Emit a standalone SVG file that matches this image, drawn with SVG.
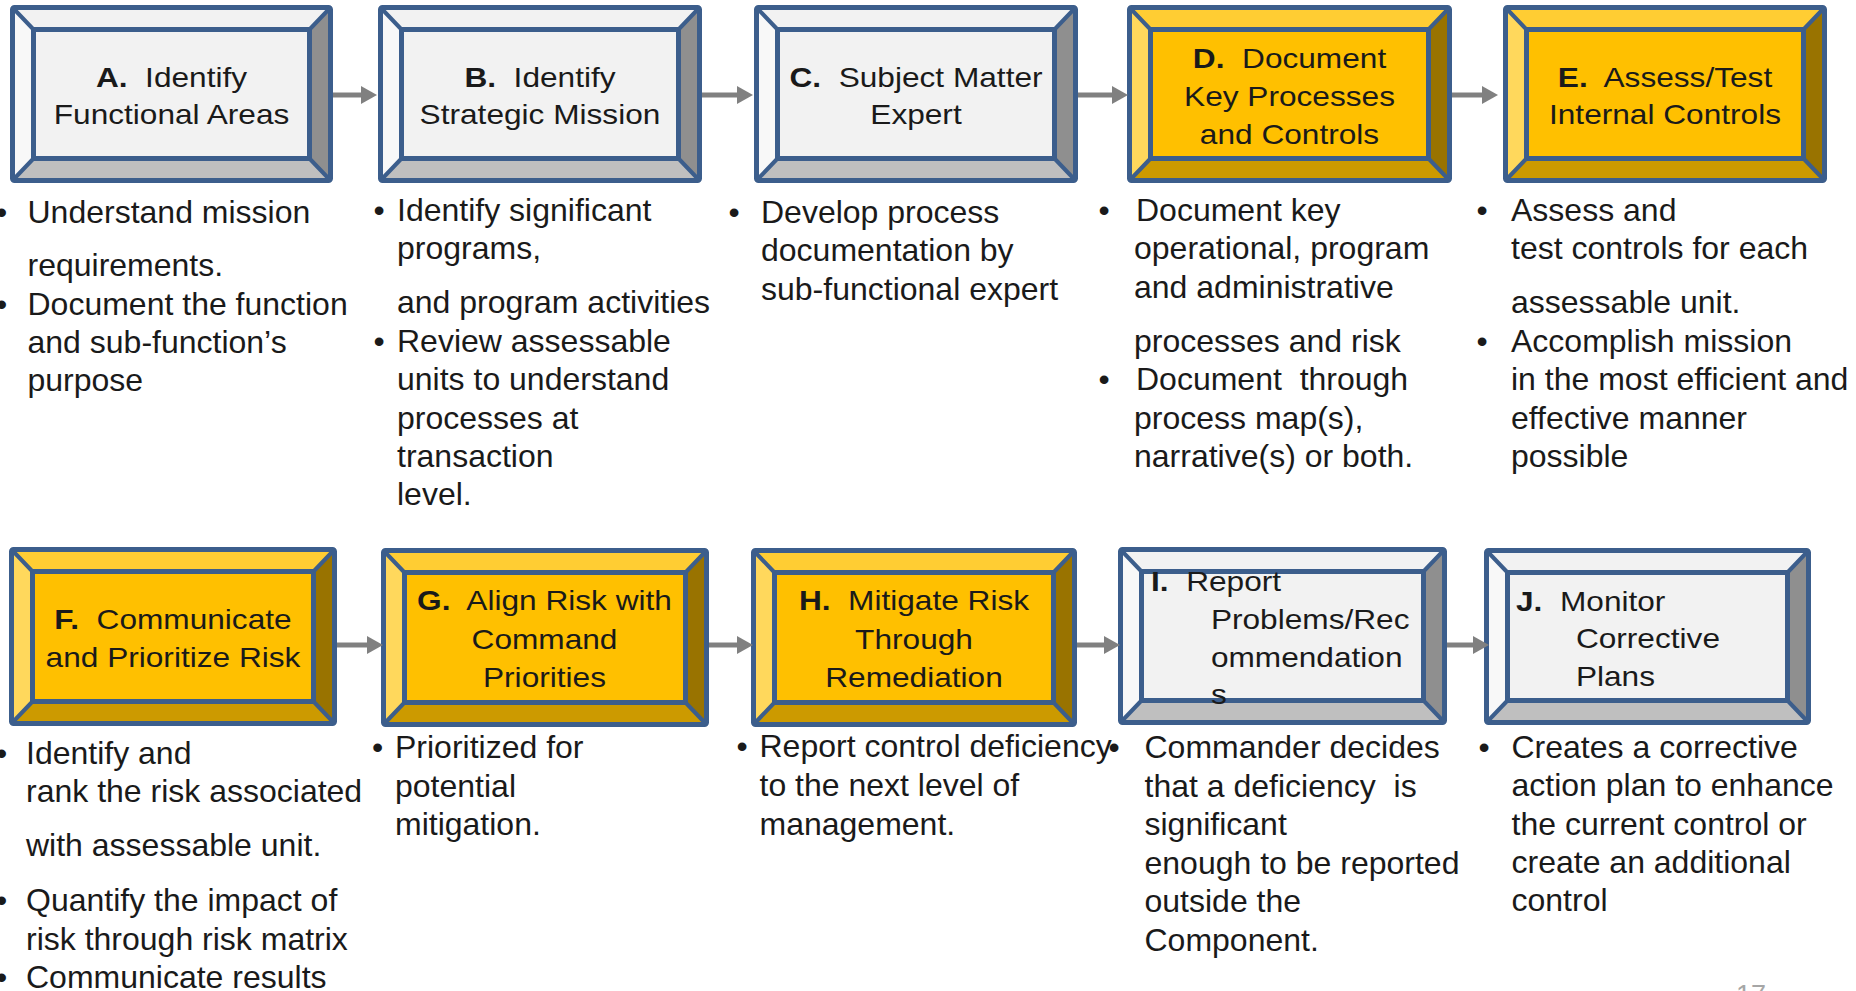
<svg xmlns="http://www.w3.org/2000/svg" width="1856" height="991" viewBox="0 0 1856 991">
<style>
.o{fill:none;stroke:#3C5E8C;stroke-width:5}
.s{stroke:#3C5E8C;stroke-width:5}
.d{stroke:#3C5E8C;stroke-width:4;fill:none}
.gt{fill:#F2F2F2}.gl{fill:#F8F8F8}.gr{fill:#8F8F8F}.gb{fill:#BFBFBF}.gf{fill:#F2F2F2}
.yt{fill:#FFCD33}.yl{fill:#FFD85C}.yr{fill:#997300}.yb{fill:#CC9A00}.yf{fill:#FFC000}
.t{font-family:"Liberation Sans",Arial,sans-serif;font-size:28px;fill:#1A1A1A;text-anchor:middle}
.tl{font-family:"Liberation Sans",Arial,sans-serif;font-size:28px;fill:#1A1A1A}
.b{font-weight:bold}
.x{font-family:"Liberation Sans",Arial,sans-serif;font-size:32px;fill:#1A1A1A}
.c{stroke:#808080;stroke-width:5;fill:none;marker-end:url(#ah)}
</style>
<defs>
<marker id="ah" markerUnits="userSpaceOnUse" markerWidth="16" markerHeight="18" refX="0" refY="9" orient="auto">
<path d="M0,0L16,9L0,18Z" fill="#808080"/>
</marker>
</defs>
<rect width="1856" height="991" fill="#FFFFFF"/>

<g id="nodeA">
<polygon class="gt" points="12.5,7.5 330.5,7.5 309.5,29.5 33.5,29.5"/>
<polygon class="gl" points="12.5,7.5 33.5,29.5 33.5,158.5 12.5,180.5"/>
<polygon class="gr" points="330.5,7.5 330.5,180.5 309.5,158.5 309.5,29.5"/>
<polygon class="gb" points="12.5,180.5 33.5,158.5 309.5,158.5 330.5,180.5"/>
<rect class="gf s" x="33.5" y="29.5" width="276" height="129"/>
<path class="d" d="M12.5,7.5L33.5,29.5M330.5,7.5L309.5,29.5M12.5,180.5L33.5,158.5M330.5,180.5L309.5,158.5"/>
<rect class="o" x="12.5" y="7.5" width="318" height="173" rx="2"/>
<g transform="translate(171.5,0) scale(1.13,1)">
<text class="t" y="87" xml:space="preserve"><tspan class="b">A.</tspan>  Identify</text>
<text class="t" y="124">Functional Areas</text>
</g>
</g>

<g id="nodeB">
<polygon class="gt" points="380.5,7.5 699.5,7.5 678.5,29.5 401.5,29.5"/>
<polygon class="gl" points="380.5,7.5 401.5,29.5 401.5,158.5 380.5,180.5"/>
<polygon class="gr" points="699.5,7.5 699.5,180.5 678.5,158.5 678.5,29.5"/>
<polygon class="gb" points="380.5,180.5 401.5,158.5 678.5,158.5 699.5,180.5"/>
<rect class="gf s" x="401.5" y="29.5" width="277" height="129"/>
<path class="d" d="M380.5,7.5L401.5,29.5M699.5,7.5L678.5,29.5M380.5,180.5L401.5,158.5M699.5,180.5L678.5,158.5"/>
<rect class="o" x="380.5" y="7.5" width="319" height="173" rx="2"/>
<g transform="translate(540,0) scale(1.13,1)">
<text class="t" y="87" xml:space="preserve"><tspan class="b">B.</tspan>  Identify</text>
<text class="t" y="124">Strategic Mission</text>
</g>
</g>

<g id="nodeC">
<polygon class="gt" points="756.5,7.5 1075.5,7.5 1054.5,29.5 777.5,29.5"/>
<polygon class="gl" points="756.5,7.5 777.5,29.5 777.5,158.5 756.5,180.5"/>
<polygon class="gr" points="1075.5,7.5 1075.5,180.5 1054.5,158.5 1054.5,29.5"/>
<polygon class="gb" points="756.5,180.5 777.5,158.5 1054.5,158.5 1075.5,180.5"/>
<rect class="gf s" x="777.5" y="29.5" width="277" height="129"/>
<path class="d" d="M756.5,7.5L777.5,29.5M1075.5,7.5L1054.5,29.5M756.5,180.5L777.5,158.5M1075.5,180.5L1054.5,158.5"/>
<rect class="o" x="756.5" y="7.5" width="319" height="173" rx="2"/>
<g transform="translate(916,0) scale(1.13,1)">
<text class="t" y="87" xml:space="preserve"><tspan class="b">C.</tspan>  Subject Matter</text>
<text class="t" y="124">Expert</text>
</g>
</g>

<g id="nodeD">
<polygon class="yt" points="1129.5,7.5 1449.5,7.5 1428.5,29.5 1150.5,29.5"/>
<polygon class="yl" points="1129.5,7.5 1150.5,29.5 1150.5,158.5 1129.5,180.5"/>
<polygon class="yr" points="1449.5,7.5 1449.5,180.5 1428.5,158.5 1428.5,29.5"/>
<polygon class="yb" points="1129.5,180.5 1150.5,158.5 1428.5,158.5 1449.5,180.5"/>
<rect class="yf s" x="1150.5" y="29.5" width="278" height="129"/>
<path class="d" d="M1129.5,7.5L1150.5,29.5M1449.5,7.5L1428.5,29.5M1129.5,180.5L1150.5,158.5M1449.5,180.5L1428.5,158.5"/>
<rect class="o" x="1129.5" y="7.5" width="320" height="173" rx="2"/>
<g transform="translate(1289.5,0) scale(1.13,1)">
<text class="t" y="68" xml:space="preserve"><tspan class="b">D.</tspan>  Document</text>
<text class="t" y="106">Key Processes</text>
<text class="t" y="144">and Controls</text>
</g>
</g>

<g id="nodeE">
<polygon class="yt" points="1505.5,7.5 1824.5,7.5 1803.5,29.5 1526.5,29.5"/>
<polygon class="yl" points="1505.5,7.5 1526.5,29.5 1526.5,158.5 1505.5,180.5"/>
<polygon class="yr" points="1824.5,7.5 1824.5,180.5 1803.5,158.5 1803.5,29.5"/>
<polygon class="yb" points="1505.5,180.5 1526.5,158.5 1803.5,158.5 1824.5,180.5"/>
<rect class="yf s" x="1526.5" y="29.5" width="277" height="129"/>
<path class="d" d="M1505.5,7.5L1526.5,29.5M1824.5,7.5L1803.5,29.5M1505.5,180.5L1526.5,158.5M1824.5,180.5L1803.5,158.5"/>
<rect class="o" x="1505.5" y="7.5" width="319" height="173" rx="2"/>
<g transform="translate(1665,0) scale(1.13,1)">
<text class="t" y="87" xml:space="preserve"><tspan class="b">E.</tspan>  Assess/Test</text>
<text class="t" y="124">Internal Controls</text>
</g>
</g>

<g id="nodeF">
<polygon class="yt" points="11.5,549.5 334.5,549.5 313.5,571.5 32.5,571.5"/>
<polygon class="yl" points="11.5,549.5 32.5,571.5 32.5,701.5 11.5,723.5"/>
<polygon class="yr" points="334.5,549.5 334.5,723.5 313.5,701.5 313.5,571.5"/>
<polygon class="yb" points="11.5,723.5 32.5,701.5 313.5,701.5 334.5,723.5"/>
<rect class="yf s" x="32.5" y="571.5" width="281" height="130"/>
<path class="d" d="M11.5,549.5L32.5,571.5M334.5,549.5L313.5,571.5M11.5,723.5L32.5,701.5M334.5,723.5L313.5,701.5"/>
<rect class="o" x="11.5" y="549.5" width="323" height="174" rx="2"/>
<g transform="translate(173,0) scale(1.13,1)">
<text class="t" y="629" xml:space="preserve"><tspan class="b">F.</tspan>  Communicate</text>
<text class="t" y="667">and Prioritize Risk</text>
</g>
</g>

<g id="nodeG">
<polygon class="yt" points="383.5,550.5 706.5,550.5 685.5,572.5 404.5,572.5"/>
<polygon class="yl" points="383.5,550.5 404.5,572.5 404.5,702.5 383.5,724.5"/>
<polygon class="yr" points="706.5,550.5 706.5,724.5 685.5,702.5 685.5,572.5"/>
<polygon class="yb" points="383.5,724.5 404.5,702.5 685.5,702.5 706.5,724.5"/>
<rect class="yf s" x="404.5" y="572.5" width="281" height="130"/>
<path class="d" d="M383.5,550.5L404.5,572.5M706.5,550.5L685.5,572.5M383.5,724.5L404.5,702.5M706.5,724.5L685.5,702.5"/>
<rect class="o" x="383.5" y="550.5" width="323" height="174" rx="2"/>
<g transform="translate(544.5,0) scale(1.13,1)">
<text class="t" y="610" xml:space="preserve"><tspan class="b">G.</tspan>  Align Risk with</text>
<text class="t" y="649">Command</text>
<text class="t" y="687">Priorities</text>
</g>
</g>

<g id="nodeH">
<polygon class="yt" points="753.5,550.5 1074.5,550.5 1053.5,572.5 774.5,572.5"/>
<polygon class="yl" points="753.5,550.5 774.5,572.5 774.5,702.5 753.5,724.5"/>
<polygon class="yr" points="1074.5,550.5 1074.5,724.5 1053.5,702.5 1053.5,572.5"/>
<polygon class="yb" points="753.5,724.5 774.5,702.5 1053.5,702.5 1074.5,724.5"/>
<rect class="yf s" x="774.5" y="572.5" width="279" height="130"/>
<path class="d" d="M753.5,550.5L774.5,572.5M1074.5,550.5L1053.5,572.5M753.5,724.5L774.5,702.5M1074.5,724.5L1053.5,702.5"/>
<rect class="o" x="753.5" y="550.5" width="321" height="174" rx="2"/>
<g transform="translate(914,0) scale(1.13,1)">
<text class="t" y="610" xml:space="preserve"><tspan class="b">H.</tspan>  Mitigate Risk</text>
<text class="t" y="649">Through</text>
<text class="t" y="687">Remediation</text>
</g>
</g>

<g id="nodeI">
<polygon class="gt" points="1120.5,549.5 1444.5,549.5 1423.5,571.5 1141.5,571.5"/>
<polygon class="gl" points="1120.5,549.5 1141.5,571.5 1141.5,700.5 1120.5,722.5"/>
<polygon class="gr" points="1444.5,549.5 1444.5,722.5 1423.5,700.5 1423.5,571.5"/>
<polygon class="gb" points="1120.5,722.5 1141.5,700.5 1423.5,700.5 1444.5,722.5"/>
<rect class="gf s" x="1141.5" y="571.5" width="282" height="129"/>
<path class="d" d="M1120.5,549.5L1141.5,571.5M1444.5,549.5L1423.5,571.5M1120.5,722.5L1141.5,700.5M1444.5,722.5L1423.5,700.5"/>
<rect class="o" x="1120.5" y="549.5" width="324" height="173" rx="2"/>
<g transform="translate(1151,0) scale(1.13,1)">
<text class="tl" y="591" xml:space="preserve"><tspan class="b">I.</tspan>  Report</text>
<text class="tl" x="53" y="629">Problems/Rec</text>
<text class="tl" x="53" y="667">ommendation</text>
<text class="tl" x="53" y="704">s</text>
</g>
</g>

<g id="nodeJ">
<polygon class="gt" points="1486.5,550.5 1808.5,550.5 1787.5,572.5 1507.5,572.5"/>
<polygon class="gl" points="1486.5,550.5 1507.5,572.5 1507.5,700.5 1486.5,722.5"/>
<polygon class="gr" points="1808.5,550.5 1808.5,722.5 1787.5,700.5 1787.5,572.5"/>
<polygon class="gb" points="1486.5,722.5 1507.5,700.5 1787.5,700.5 1808.5,722.5"/>
<rect class="gf s" x="1507.5" y="572.5" width="280" height="128"/>
<path class="d" d="M1486.5,550.5L1507.5,572.5M1808.5,550.5L1787.5,572.5M1486.5,722.5L1507.5,700.5M1808.5,722.5L1787.5,700.5"/>
<rect class="o" x="1486.5" y="550.5" width="322" height="172" rx="2"/>
<g transform="translate(1516,0) scale(1.13,1)">
<text class="tl" y="611" xml:space="preserve"><tspan class="b">J.</tspan>  Monitor</text>
<text class="tl" x="53" y="648">Corrective</text>
<text class="tl" x="53" y="686">Plans</text>
</g>
</g>

<g id="connectors">
<path class="c" d="M333,95H361"/>
<path class="c" d="M702,95H737"/>
<path class="c" d="M1078,95H1112"/>
<path class="c" d="M1452,95H1482"/>
<path class="c" d="M337,645H367"/>
<path class="c" d="M709,645H737"/>
<path class="c" d="M1077,645H1104"/>
<path class="c" d="M1447,645H1473"/>
</g>

<g id="descA" class="x">
<text x="-4" y="223">•</text><text x="27.5" y="223">Understand mission</text>
<text x="27.5" y="276">requirements.</text>
<text x="-4" y="315">•</text><text x="27.5" y="315">Document the function</text>
<text x="27.5" y="353">and sub-function’s</text>
<text x="27.5" y="391">purpose</text>
</g>
<g id="descB" class="x">
<text x="373.5" y="221">•</text><text x="397" y="221">Identify significant</text>
<text x="397" y="259">programs,</text>
<text x="397" y="313">and program activities</text>
<text x="373.5" y="352">•</text><text x="397" y="352">Review assessable</text>
<text x="397" y="390">units to understand</text>
<text x="397" y="429">processes at</text>
<text x="397" y="467">transaction</text>
<text x="397" y="505">level.</text>
</g>
<g id="descC" class="x">
<text x="728.5" y="223">•</text><text x="761" y="223">Develop process</text>
<text x="761" y="261">documentation by</text>
<text x="761" y="300">sub-functional expert</text>
</g>
<g id="descD" class="x">
<text x="1098.5" y="221">•</text><text x="1136" y="221">Document key</text>
<text x="1134" y="259">operational, program</text>
<text x="1134" y="298">and administrative</text>
<text x="1134" y="352">processes and risk</text>
<text x="1098.5" y="390">•</text><text x="1136" y="390" xml:space="preserve">Document  through</text>
<text x="1134" y="429">process map(s),</text>
<text x="1134" y="467">narrative(s) or both.</text>
</g>
<g id="descE" class="x">
<text x="1476.5" y="221">•</text><text x="1511" y="221">Assess and</text>
<text x="1511" y="259">test controls for each</text>
<text x="1511" y="313">assessable unit.</text>
<text x="1476.5" y="352">•</text><text x="1511" y="352">Accomplish mission</text>
<text x="1511" y="390">in the most efficient and</text>
<text x="1511" y="429">effective manner</text>
<text x="1511" y="467">possible</text>
</g>
<g id="descF" class="x">
<text x="-4" y="764">•</text><text x="26" y="764">Identify and</text>
<text x="26" y="802">rank the risk associated</text>
<text x="26" y="856">with assessable unit.</text>
<text x="-4" y="911">•</text><text x="26" y="911">Quantify the impact of</text>
<text x="26" y="950">risk through risk matrix</text>
<text x="-4" y="988">•</text><text x="26" y="988">Communicate results</text>
</g>
<g id="descG" class="x">
<text x="372" y="758">•</text><text x="395" y="758">Prioritized for</text>
<text x="395" y="797">potential</text>
<text x="395" y="835">mitigation.</text>
</g>
<g id="descH" class="x">
<text x="736.5" y="757">•</text><text x="759.5" y="757">Report control deficiency</text>
<text x="759.5" y="796">to the next level of</text>
<text x="759.5" y="835">management.</text>
</g>
<g id="descI" class="x">
<text x="1108.5" y="758">•</text><text x="1144.5" y="758">Commander decides</text>
<text x="1144.5" y="797" xml:space="preserve">that a deficiency  is</text>
<text x="1144.5" y="835">significant</text>
<text x="1144.5" y="874">enough to be reported</text>
<text x="1144.5" y="912">outside the</text>
<text x="1144.5" y="951">Component.</text>
</g>
<g id="descJ" class="x">
<text x="1478.5" y="758">•</text><text x="1511.5" y="758">Creates a corrective</text>
<text x="1511.5" y="796">action plan to enhance</text>
<text x="1511.5" y="835">the current control or</text>
<text x="1511.5" y="873">create an additional</text>
<text x="1511.5" y="911">control</text>
</g>
<text x="1736" y="1004" font-family="Liberation Sans, Arial, sans-serif" font-size="27" fill="#A6A6A6">17</text>
</svg>
